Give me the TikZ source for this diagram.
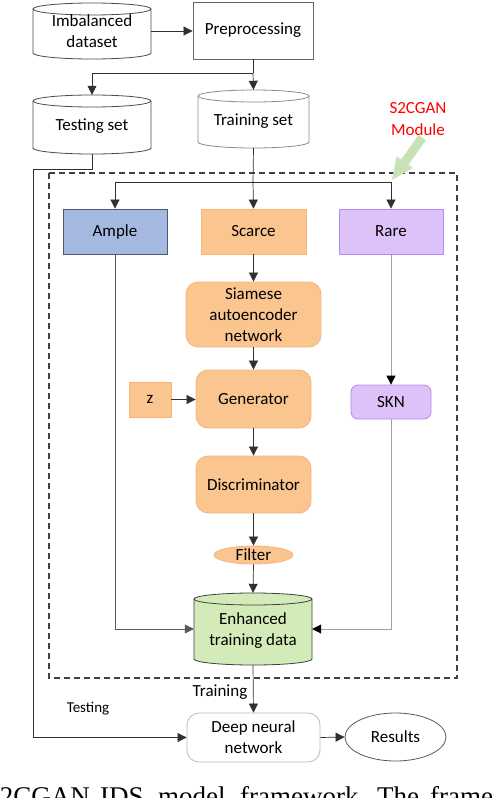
\documentclass[tikz,border=0pt]{standalone}
\usepackage{fontspec}
\setmainfont{Carlito}
\newfontfamily\capfont{Liberation Serif}
\usetikzlibrary{arrows.meta,shapes.geometric,calc}
\definecolor{orfill}{HTML}{FBC590}
\definecolor{ordraw}{HTML}{F6B47C}
\definecolor{blfill}{HTML}{A5B9E0}
\definecolor{bldraw}{HTML}{4F5866}
\definecolor{pufill}{HTML}{DCC2F8}
\definecolor{pudraw}{HTML}{B38BF0}
\definecolor{grfill}{HTML}{D3EBB9}
\definecolor{arrowgreen}{HTML}{C8E2B6}
\definecolor{dnndraw}{HTML}{B3C3A3}
\definecolor{linedark}{HTML}{303030}
\definecolor{linegray}{HTML}{A0A0A0}
\newcommand\mycyl[6]{% left top right bottom fill draw
  \path[fill=#5,draw=#6,line width=0.8pt] (#1,-#2-6) -- (#1,-#4+6)
    arc[start angle=180,end angle=360,x radius={(#3-#1)/2},y radius=6]
    -- (#3,-#2-6)
    arc[start angle=0,end angle=180,x radius={(#3-#1)/2},y radius=6] -- cycle;
  \draw[#6,line width=0.8pt] (#1,-#2-6)
    arc[start angle=180,end angle=360,x radius={(#3-#1)/2},y radius=6];
}
\begin{document}
\begin{tikzpicture}[x=1pt,y=1pt,
  every node/.style={font=\fontsize{17}{21}\selectfont, align=center, inner sep=0pt},
  plain/.style={rectangle, draw=none},
  box/.style={rectangle, draw, line width=0.8pt},
  rbox/.style={rectangle, rounded corners=12pt, draw, line width=0.8pt},
  orange/.style={fill=orfill, draw=ordraw},
  purple/.style={fill=pufill, draw=pudraw},
  conn/.style={line width=0.7pt, draw=linedark, -{Triangle[length=9pt,width=9pt]}},
  line/.style={line width=0.7pt, draw=linedark},
  grayconn/.style={line width=0.9pt, draw=linegray, -{Triangle[length=9pt,width=9pt,color=black]}},
  smalltext/.style={font=\fontsize{15}{18}\selectfont},
]
\useasboundingbox (0,0) rectangle (492,-798);
\fill[white] (0,0) rectangle (492,-798);

% dashed module frame
\draw[draw=black!75, line width=1.2pt, dash pattern=on 6pt off 4pt] (49,-173) rectangle (457,-678);

% cylinders
\mycyl{33}{3}{151}{59}{white}{black!70}
\node[plain, minimum width=118pt, minimum height=56pt] (imb) at (92,-31) {Imbalanced\\dataset};
\mycyl{33}{95}{151}{154}{white}{black!70}
\node[plain, minimum width=118pt, minimum height=59pt] (test) at (92,-124.5) {};
\node (testtxt) at (92,-126.5) {Testing set};
\mycyl{198}{90}{309}{148}{white}{black!45}
\node[plain, minimum width=111pt, minimum height=58pt] (train) at (253.5,-119) {};
\node (traintxt) at (253.5,-121.5) {Training set};
\mycyl{194}{593}{312}{665}{grfill}{black!75}
\node[plain, minimum width=118pt, minimum height=72pt] (enh) at (253,-629) {};
\node (enhtxt) at (253,-631) {Enhanced\\training data};

% boxes
\node[box, draw=black!60, minimum width=120pt, minimum height=57pt] (pre) at (253,-30.5) {Preprocessing};
\node[box, fill=blfill, draw=bldraw, minimum width=104pt, minimum height=45pt] (ample) at (115,-231.5) {Ample};
\node[box, orange, minimum width=105pt, minimum height=45pt] (scarce) at (253.5,-231.5) {Scarce};
\node[box, purple, minimum width=104pt, minimum height=45pt] (rare) at (391,-231.5) {Rare};
\node[rbox, orange, minimum width=135pt, minimum height=65pt] (siam) at (253.5,-314.5) {Siamese\\autoencoder\\network};
\node[rbox, orange, minimum width=115pt, minimum height=58pt] (gen) at (253.5,-399) {Generator};
\node[box, orange, minimum width=42pt, minimum height=35pt] (z) at (150,-399.5) {z};
\node[rbox, purple, rounded corners=7pt, minimum width=80pt, minimum height=34pt] (skn) at (391,-402) {SKN};
\node[rbox, orange, minimum width=115pt, minimum height=57pt] (disc) at (253.5,-484.5) {Discriminator};
\node[ellipse, orange, line width=0.8pt, minimum width=79pt, minimum height=18pt] (filt) at (253.5,-555) {Filter};
\node[rbox, fill=white, draw=dnndraw, minimum width=133pt, minimum height=49pt] (dnn) at (253.5,-737.5) {Deep neural\\network};
\node[ellipse, draw=black!65, line width=0.8pt, minimum width=101pt, minimum height=48pt] (res) at (395.5,-737) {Results};

% labels
\node[text=red] (s2l1) at (418,-108) {S2CGAN};
\node[text=red] (s2l2) at (418,-130) {Module};
\node[smalltext] (testlbl) at (88,-709) {Testing};
\node (trainlbl) at (220,-692) {Training};

% green pointer arrow
\begin{scope}[shift={(392,-180)}, rotate=54.5]
  \fill[arrowgreen] (0,0) -- (22,10) -- (22,4.5) -- (52,4.5) -- (52,-4.5) -- (22,-4.5) -- (22,-10) -- cycle;
\end{scope}

% coordinates
\coordinate (j1) at (253,-73);
\coordinate (j2) at (253,-182);
\coordinate (t1) at (92,-169);
\coordinate (t2) at (33,-169);

% connectors
\draw[conn] (imb.east) -- (imb.east -| pre.west);
\draw[line] (pre.south) -- (j1);
\draw[conn] (j1) -- (train.north);
\draw[conn] (j1) -| (test.north);
\draw[line] (test.south) -- (t1) -- (t2);
\draw[conn] (t2) |- (dnn.west);
\draw[line] (train.south) -- (j2);
\draw[conn] (j2) -- (scarce.north);
\draw[conn] (j2) -| (ample.north);
\draw[conn] (j2) -| (rare.north);
\draw[conn] (scarce.south) -- (siam.north);
\draw[conn] (siam.south) -- (gen.north);
\draw[conn] (z.east) -- (gen.west |- z.east);
\draw[conn] (gen.south) -- (disc.north);
\draw[conn] (disc.south) -- (filt.north);
\draw[conn] (filt.south) -- (enh.north);
\draw[conn, draw=black!65] (ample.south) |- (enh.west);
\draw[grayconn] (rare.south) -- (skn.north);
\draw[grayconn] (skn.south) |- (enh.east);
\draw[conn] (enh.south) -- (dnn.north);
\draw[conn] (dnn.east) -- (res.west);

% cut-off caption line
\begin{scope}
  \clip (0,0) rectangle (492,-798);
  \begin{scope}[every node/.style={font=\capfont\fontsize{27}{30}\selectfont, inner sep=0pt}]
    \node[anchor=base east] (cw1) at (90,-805) {S2CGAN};
    \node[anchor=base west] (cw2) at (100,-805) {IDS};
    \node[anchor=base west] (cw3) at (158,-805) {model};
    \node[anchor=base west] (cw4) at (240,-805) {framework.};
    \node[anchor=base west] (cw5) at (377,-805) {The};
    \node[anchor=base west] (cw6) at (430,-805) {framework};
  \end{scope}
\end{scope}
\end{tikzpicture}
\end{document}
